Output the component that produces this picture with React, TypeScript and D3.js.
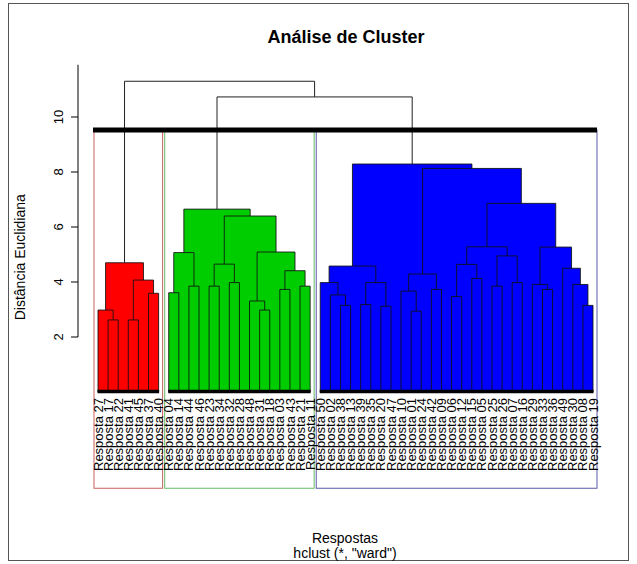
import { scaleLinear } from 'd3';

type Node = string | [Node, Node, number];

// merge heights (ward distances)
const redTree: Node = [
  ['27', ['17', '22', 2.62], 2.98],
  [['41', '45', 2.62], ['37', '40', 3.59], 4.07],
  4.7,
];

const greenTree: Node = [
  [['04', '14', 3.61], ['44', '46', 3.85], 5.07],
  [
    [['23', '34', 3.85], ['32', '28', 3.98], 4.65],
    [['48', ['31', '18', 2.98], 3.31], [['03', '43', 3.73], ['21', '11', 3.85], 4.41], 5.09],
    6.4,
  ],
  6.65,
];

const blueTree: Node = [
  [['50', ['02', ['38', '13', 3.15], 3.53], 3.98], [['39', '35', 3.18], ['20', '47', 3.12], 3.98], 4.58],
  [
    [['10', ['01', '24', 2.94], 3.67], ['42', '09', 3.73], 4.29],
    [
      [[['06', '12', 3.47], ['15', '05', 4.13], 4.64], [['25', '26', 3.85], ['07', '16', 3.98], 4.95], 5.28],
      [['29', ['33', '36', 3.73], 3.91], ['49', ['30', ['08', '19', 3.15], 3.91], 4.5], 5.27],
      6.86,
    ],
    8.13,
  ],
  8.29,
];

const clusterTrees = [redTree, greenTree, blueTree];
const clusterColors = ['#ff0000', '#00cd00', '#0000ff'];
const boxColors = ['#c86060', '#66b866', '#5a5aa8'];
const upperMerges = [10.73, 11.3];
const cutHeight = 9.53;
const yTicks = [2, 4, 6, 8, 10];

const leavesOf = (n: Node): string[] => (typeof n === 'string' ? [n] : [...leavesOf(n[0]), ...leavesOf(n[1])]);
const leafOrder = clusterTrees.flatMap(leavesOf);

export default function App() {
  const x = scaleLinear().domain([0, leafOrder.length - 1]).range([98, 593]);
  const y = scaleLinear().domain([0, 10]).range([392, 117]);
  const font = '"Liberation Sans", Arial, sans-serif';

  const rects: JSX.Element[] = [];
  const links: JSX.Element[] = [];
  let key = 0;

  // returns [x, height] of a node, pushes its drawing
  const layout = (n: Node, color: string): [number, number] => {
    if (typeof n === 'string') return [x(leafOrder.indexOf(n)), 0];
    const [lx, lh] = layout(n[0], color);
    const [rx, rh] = layout(n[1], color);
    const h = n[2];
    rects.push(<rect key={key++} x={lx} y={y(h)} width={rx - lx} height={y(0) - y(h)} fill={color} />);
    links.push(
      <path
        key={key++}
        d={`M${lx},${y(lh)}V${y(h)}H${rx}V${y(rh)}`}
        fill="none"
        stroke="#101010"
        strokeOpacity={0.85}
        strokeWidth={1}
      />,
    );
    return [(lx + rx) / 2, h];
  };

  const tops = clusterTrees.map((t, i) => layout(t, clusterColors[i]));
  const gb = [(tops[1][0] + tops[2][0]) / 2, upperMerges[0]];
  const root = [(tops[0][0] + gb[0]) / 2, upperMerges[1]];

  let start = 0;
  const spans = clusterTrees.map((t) => {
    const n = leavesOf(t).length;
    const s = [start, start + n - 1];
    start += n;
    return s;
  });

  return (
    <svg width={637} height={564} style={{ position: 'absolute', left: 0, top: 0, background: '#fff' }} fontFamily={font}>
      <rect x={8.5} y={3.5} width={620} height={557} fill="none" stroke="#555" strokeWidth={1} />
      <text x={346} y={43} textAnchor="middle" fontWeight="bold" fontSize={18}>
        Análise de Cluster
      </text>

      {/* y axis */}
      <line x1={78} x2={78} y1={y(2)} y2={y(11.9)} stroke="#000" />
      {yTicks.map((t) => (
        <g key={t}>
          <line x1={71} x2={78} y1={y(t)} y2={y(t)} stroke="#000" />
          <text transform={`translate(58,${y(t)}) rotate(-90)`} textAnchor="middle" dy="0.35em" fontSize={13}>
            {t}
          </text>
        </g>
      ))}
      <text transform={`translate(20,${y(4.9)}) rotate(-90)`} textAnchor="middle" dy="0.35em" fontSize={14}>
        Distância Euclidiana
      </text>

      {rects}
      {links}

      {/* upper merges joining the three groups */}
      <path
        d={`M${tops[1][0]},${y(tops[1][1])}V${y(gb[1])}H${tops[2][0]}V${y(tops[2][1])}`}
        fill="none"
        stroke="#222"
      />
      <path d={`M${tops[0][0]},${y(tops[0][1])}V${y(root[1])}H${gb[0]}V${y(gb[1])}`} fill="none" stroke="#222" />

      {spans.map(([a, b], i) => (
        <g key={i}>
          <line x1={x(a) - 0.5} x2={x(b) + 0.5} y1={y(0) - 0.5} y2={y(0) - 0.5} stroke="#000" strokeWidth={3.5} />
          <rect
            x={x(a) - 4}
            y={y(cutHeight)}
            width={x(b) - x(a) + 8}
            height={y(-3.5) - y(cutHeight)}
            fill="none"
            stroke={boxColors[i]}
            strokeWidth={1}
          />
        </g>
      ))}
      <line x1={93} x2={597} y1={y(cutHeight)} y2={y(cutHeight)} stroke="#000" strokeWidth={5} />

      {leafOrder.map((l, i) => (
        <text
          key={l}
          transform={`translate(${x(i)},398) rotate(-90)`}
          textAnchor="end"
          dy="0.35em"
          fontSize={13}
        >
          {`Resposta ${l}`}
        </text>
      ))}

      <text x={345} y={543} textAnchor="middle" fontSize={14}>
        Respostas
      </text>
      <text x={345} y={558} textAnchor="middle" fontSize={14}>
        hclust (*, "ward")
      </text>
    </svg>
  );
}
